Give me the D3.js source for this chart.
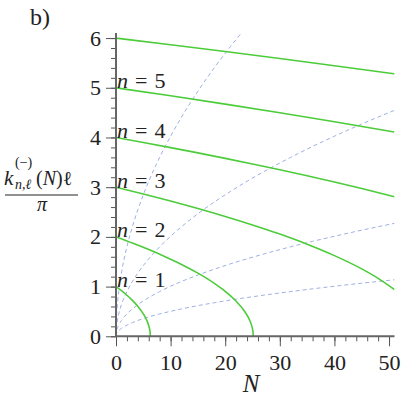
<!DOCTYPE html>
<html>
<head>
<meta charset="utf-8">
<script src="https://cdn.jsdelivr.net/npm/d3@7"></script>
<style>
  body { margin: 0; background: #fff; }
  svg text { font-family: "Liberation Serif", "Times New Roman", "DejaVu Serif", serif !important; fill: #222; }
</style>
</head>
<body>
<script>
// branch values: k l / pi against N, one per n
var nLevels = [1, 2, 3, 4, 5, 6];

var branchN1 = [0, 1, 2, 3, 4, 5, 5.5, 6, 6.2, 6.25, 6.283];
var branchK1 = [1, 0.917, 0.826, 0.723, 0.603, 0.452, 0.353, 0.212, 0.115, 0.073, 0];

var branchN2 = [0, 3, 6, 9, 12, 15, 18, 20, 22, 23.5, 24.5, 25, 25.1, 25.133];
var branchK2 = [2, 1.877, 1.745, 1.602, 1.446, 1.270, 1.065, 0.904, 0.706, 0.510, 0.317, 0.145, 0.072, 0];

var branchN3 = [0, 5, 10, 15, 20, 25, 30, 35, 40, 45, 48, 51];
var branchK3 = [3, 2.864, 2.722, 2.572, 2.412, 2.241, 2.056, 1.852, 1.623, 1.356, 1.166, 0.940];

var branchN4 = [0, 5, 10, 15, 20, 25, 30, 35, 40, 45, 51];
var branchK4 = [4, 3.899, 3.796, 3.690, 3.580, 3.467, 3.350, 3.229, 3.104, 2.973, 2.808];

var branchN5 = [0, 10, 20, 30, 40, 51];
var branchK5 = [5, 4.838, 4.671, 4.497, 4.317, 4.109];

var branchN6 = [0, 10, 20, 30, 40, 51];
var branchK6 = [6, 5.866, 5.729, 5.588, 5.444, 5.280];

// dashed guide curves
var guideN  = [0, 0.05, 0.2, 0.5, 1, 2, 3, 4, 6, 8, 10, 12, 15, 18, 21, 24, 28, 32, 36, 40, 45, 51];
var guideKA = [0, 0.285, 0.569, 0.900, 1.273, 1.801, 2.205, 2.546, 3.119, 3.601, 4.026, 4.410, 4.931, 5.402, 5.835, 6.237, 6.737, 7.202, 7.639, 8.053, 8.541, 9.093];
var guideKB = [0, 0.142, 0.285, 0.450, 0.637, 0.900, 1.103, 1.273, 1.559, 1.801, 2.013, 2.205, 2.466, 2.701, 2.917, 3.119, 3.369, 3.601, 3.820, 4.026, 4.271, 4.546];
var guideKC = [0, 0.071, 0.142, 0.225, 0.318, 0.450, 0.551, 0.637, 0.780, 0.900, 1.007, 1.103, 1.233, 1.350, 1.459, 1.559, 1.684, 1.801, 1.910, 2.013, 2.135, 2.273];
var guideKD = [0, 0.036, 0.071, 0.113, 0.159, 0.225, 0.276, 0.318, 0.390, 0.450, 0.503, 0.551, 0.617, 0.675, 0.730, 0.780, 0.842, 0.900, 0.955, 1.007, 1.068, 1.137];

var xMajor = [0, 10, 20, 30, 40, 50];
var yMajor = [0, 1, 2, 3, 4, 5, 6];
var labelLevels = [1, 2, 3, 4, 5];

var serif = "'Liberation Serif', 'Times New Roman', 'DejaVu Serif', serif";

var svg = d3.select("body").append("svg")
    .attr("width", 401)
    .attr("height", 399)
    .style("font-family", serif);

var x = d3.scaleLinear().domain([0, 51]).range([116, 394.5]);
var y = d3.scaleLinear().domain([0, 6.1]).range([336.3, 33.1]);

svg.append("clipPath").attr("id", "plotclip")
  .append("rect")
    .attr("x", x(0)).attr("y", y(6.1))
    .attr("width", x(51) - x(0)).attr("height", y(0) - y(6.1));

var line = d3.line()
    .x(function(d) { return x(d[0]); })
    .y(function(d) { return y(d[1]); })
    .curve(d3.curveMonotoneX);

function pairs(ns, ks) {
    return ns.map(function(v, i) { return [v, ks[i]]; });
}

var plot = svg.append("g").attr("clip-path", "url(#plotclip)");

// dashed guides
[guideKA, guideKB, guideKC, guideKD].forEach(function(ks) {
    plot.append("path")
        .attr("d", line(pairs(guideN, ks)))
        .attr("fill", "none")
        .attr("stroke", "#9fb0e2")
        .attr("stroke-width", 1)
        .attr("stroke-dasharray", "4,3");
});

// green branches
var branches = [
    pairs(branchN1, branchK1), pairs(branchN2, branchK2), pairs(branchN3, branchK3),
    pairs(branchN4, branchK4), pairs(branchN5, branchK5), pairs(branchN6, branchK6)
];
branches.forEach(function(b) {
    plot.append("path")
        .attr("d", line(b))
        .attr("fill", "none")
        .attr("stroke", "#4ccc3a")
        .attr("stroke-width", 1.6);
});

// axes
var xMinor = d3.range(0, 51, 2);
var yMinor = d3.range(0, 6.01, 0.2);

svg.append("g")
    .attr("transform", "translate(0," + y(0) + ")")
    .call(d3.axisBottom(x).tickValues(xMinor).tickSize(5).tickFormat(""))
    .call(function(g) { g.select(".domain").remove(); });

svg.append("g")
    .attr("transform", "translate(" + x(0) + ",0)")
    .call(d3.axisLeft(y).tickValues(yMinor).tickSize(5).tickFormat(""))
    .call(function(g) { g.select(".domain").remove(); });

var xAxis = svg.append("g")
    .attr("transform", "translate(0," + y(0) + ")")
    .call(d3.axisBottom(x).tickValues(xMajor).tickSize(10).tickPadding(8).tickFormat(d3.format("d")));
xAxis.select(".domain").remove();

var yAxis = svg.append("g")
    .attr("transform", "translate(" + x(0) + ",0)")
    .call(d3.axisLeft(y).tickValues(yMajor).tickSize(10).tickPadding(5).tickFormat(d3.format("d")));
yAxis.select(".domain").remove();

svg.selectAll("g").attr("font-family", null);
svg.selectAll(".tick line").attr("stroke", "#555");
svg.selectAll(".tick text")
    .style("font-family", serif)
    .attr("font-size", 22)
    .attr("fill", "#222");

svg.append("line")
    .attr("x1", x(0)).attr("x2", x(51))
    .attr("y1", y(0)).attr("y2", y(0))
    .attr("stroke", "#666").attr("stroke-width", 2);
svg.append("line")
    .attr("x1", x(0)).attr("x2", x(0))
    .attr("y1", y(0)).attr("y2", y(6.1))
    .attr("stroke", "#666").attr("stroke-width", 2);

// n = ... labels
labelLevels.forEach(function(n) {
    var t = svg.append("text")
        .attr("x", x(0) + 1)
        .attr("y", y(n) + 0.5)
        .attr("font-size", 22);
    t.append("tspan").attr("font-style", "italic").text("n");
    t.append("tspan").attr("dx", 7).text("=");
    t.append("tspan").attr("dx", 7).text(n);
});

// axis titles
svg.append("text")
    .attr("x", 251).attr("y", 392)
    .attr("text-anchor", "middle")
    .attr("font-size", 25)
    .attr("font-style", "italic")
    .text("N");

svg.append("text")
    .attr("x", 30).attr("y", 25)
    .attr("font-size", 24)
    .text("b)");

// y title: fraction
svg.append("text").attr("x", 4).attr("y", 185).attr("font-size", 21)
    .attr("font-style", "italic").text("k");
svg.append("text").attr("x", 15).attr("y", 167).attr("font-size", 14).text("(\u2212)");
svg.append("text").attr("x", 15).attr("y", 189).attr("font-size", 14)
    .attr("font-style", "italic").text("n,\u2113");
svg.append("text").attr("x", 36).attr("y", 185).attr("font-size", 20)
    .html("(<tspan font-style='italic'>N</tspan>)\u2113");
svg.append("line")
    .attr("x1", 5).attr("x2", 78)
    .attr("y1", 195).attr("y2", 195)
    .attr("stroke", "#222").attr("stroke-width", 1);
svg.append("text").attr("x", 42).attr("y", 211).attr("font-size", 20)
    .attr("text-anchor", "middle").attr("font-style", "italic").text("\u03c0");
</script>
</body>
</html>
